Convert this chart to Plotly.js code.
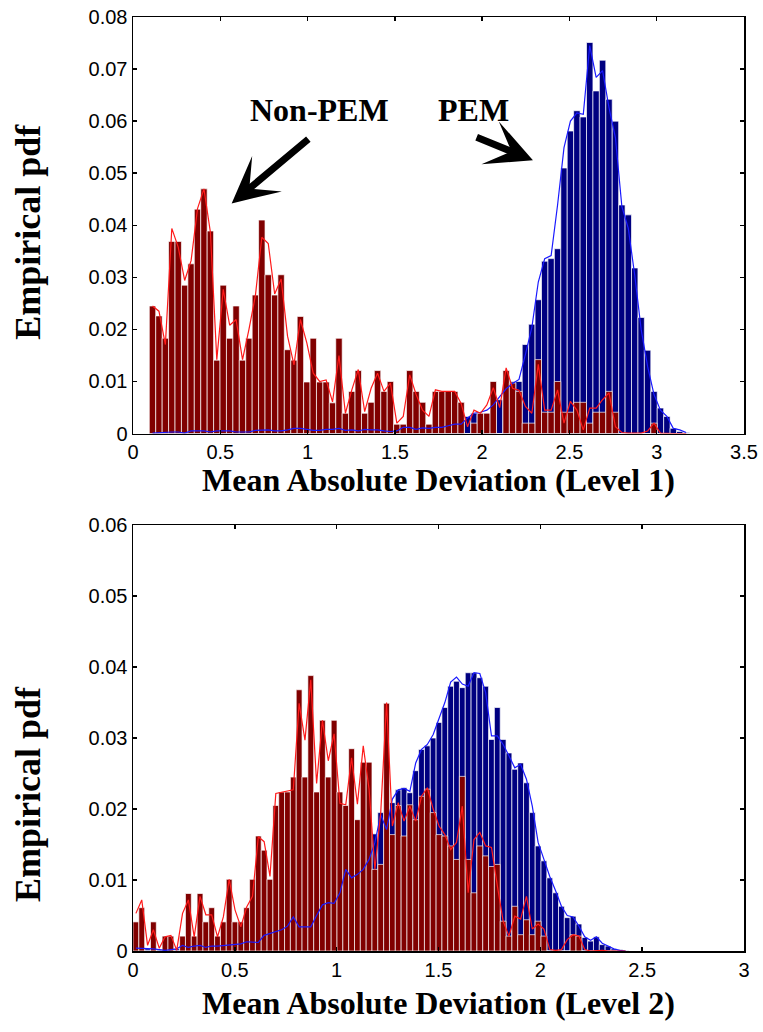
<!DOCTYPE html>
<html><head><meta charset="utf-8">
<script src="https://cdn.plot.ly/plotly-3.0.1.min.js"></script>
<style>html,body{margin:0;padding:0;background:#fff}</style>
</head><body><div id="chart" style="width:763px;height:1032px"></div>
<script>
// ---- Level 1 histogram (84 bins) ----
const binStart1 = 0.1118, binWidth1 = 0.03683;
const pemBars1 = [0.0001,0.0002,0.0003,0.0003,0.0003,0.0001,0.0005,0.0005,0.0005,0.0003,0.0005,0.0005,0.0005,0.0003,0.0003,0.0003,0.0006,0.0006,0.0007,0.0005,0.0005,0.0007,0.0010,0.0010,0.0008,0.0006,0.0006,0.0008,0.0008,0.0010,0.0006,0.0007,0.0005,0.0008,0.0007,0.0007,0.0005,0.0004,0.0005,0.0012,0.0012,0.0008,0.0011,0.0010,0.0012,0.0012,0.0015,0.0018,0.0018,0.0033,0.0039,0.0036,0.0039,0.0045,0.0065,0.0100,0.0100,0.0100,0.0171,0.0210,0.0257,0.0331,0.0336,0.0355,0.0510,0.0581,0.0620,0.0608,0.0751,0.0658,0.0717,0.0642,0.0600,0.0439,0.0420,0.0318,0.0223,0.0160,0.0081,0.0049,0.0033,0.0010,0.0004,0.0002];
const pemLine1 = [0.0001,0.0002,0.0003,0.0003,0.0003,0.0001,0.0005,0.0005,0.0005,0.0003,0.0005,0.0005,0.0005,0.0003,0.0003,0.0003,0.0006,0.0006,0.0007,0.0005,0.0005,0.0007,0.0010,0.0010,0.0008,0.0006,0.0006,0.0008,0.0008,0.0010,0.0006,0.0007,0.0005,0.0008,0.0007,0.0007,0.0005,0.0004,0.0005,0.0012,0.0012,0.0008,0.0011,0.0010,0.0012,0.0012,0.0015,0.0018,0.0018,0.0030,0.0039,0.0041,0.0045,0.0055,0.0071,0.0086,0.0096,0.0104,0.0152,0.0204,0.0291,0.0336,0.0342,0.0439,0.0549,0.0600,0.0616,0.0613,0.0745,0.0684,0.0697,0.0626,0.0568,0.0436,0.0394,0.0304,0.0200,0.0129,0.0075,0.0045,0.0033,0.0010,0.0007,0.0002];
const nonPemBars1 = [0.0245,0.0226,0.0183,0.0369,0.0369,0.0285,0.0326,0.0431,0.0470,0.0389,0.0141,0.0285,0.0183,0.0245,0.0141,0.0183,0.0266,0.0410,0.0305,0.0266,0.0305,0.0161,0.0141,0.0225,0.0099,0.0183,0.0099,0.0099,0.0059,0.0183,0.0039,0.0081,0.0121,0.0039,0.0060,0.0121,0.0081,0.0100,0.0018,0.0018,0.0121,0.0081,0.0060,0.0018,0.0081,0.0081,0.0081,0.0081,0.0060,0,0.0020,0.0039,0.0039,0.0100,0,0.0121,0.0097,0.0081,0.0020,0.0020,0.0142,0.0041,0.0041,0.0100,0.0041,0.0041,0.0060,0.0060,0.0020,0.0041,0.0041,0.0081,0.0041,0,0,0,0,0,0.0020,0,0,0,0,0];
const nonPemLine1 = [0.0245,0.0235,0.0171,0.0394,0.0358,0.0294,0.0332,0.0432,0.0470,0.0387,0.0142,0.0277,0.0208,0.0219,0.0142,0.0200,0.0265,0.0377,0.0365,0.0268,0.0297,0.0187,0.0132,0.0219,0.0174,0.0116,0.0100,0.0103,0.0061,0.0150,0.0039,0.0084,0.0123,0.0042,0.0087,0.0116,0.0081,0.0097,0.0020,0.0033,0.0113,0.0075,0.0045,0.0033,0.0084,0.0081,0.0081,0.0081,0.0058,0.0013,0.0045,0.0039,0.0055,0.0088,0.0050,0.0126,0.0087,0.0083,0.0052,0.0039,0.0133,0.0045,0.0045,0.0084,0.0020,0.0062,0.0045,0.0007,0.0049,0.0049,0.0065,0.0078,0.0013,0.0002,0.0001,0.0001,0.0001,0.0005,0.0020,0.0001,0,0,0,0];

// ---- Level 2 histogram (85 bins) ----
const binStart2 = 0.0143, binWidth2 = 0.02862;
const pemBars2 = [0.0004,0.0004,0.0003,0.0003,0.0002,0.0001,0.0002,0.0003,0.0008,0.0005,0.0007,0.0008,0.0005,0.0007,0.0007,0.0008,0.0009,0.0010,0.0010,0.0013,0.0012,0.0012,0.0022,0.0025,0.0028,0.0030,0.0035,0.0048,0.0034,0.0034,0.0034,0.0050,0.0065,0.0066,0.0067,0.0090,0.0119,0.0108,0.0110,0.0115,0.0135,0.0165,0.0195,0.0167,0.0209,0.0227,0.0230,0.0223,0.0254,0.0284,0.0289,0.0300,0.0322,0.0343,0.0373,0.0380,0.0371,0.0392,0.0392,0.0385,0.0373,0.0298,0.0343,0.0298,0.0279,0.0256,0.0265,0.0237,0.0195,0.0148,0.0127,0.0103,0.0082,0.0063,0.0047,0.0049,0.0038,0.0019,0.0014,0.0020,0.0009,0.0007,0.0003,0.0002,0.0001];
const pemLine2 = [0.0004,0.0004,0.0003,0.0003,0.0002,0.0001,0.0002,0.0003,0.0008,0.0005,0.0007,0.0008,0.0005,0.0007,0.0007,0.0008,0.0009,0.0010,0.0010,0.0013,0.0012,0.0012,0.0022,0.0025,0.0028,0.0030,0.0035,0.0048,0.0034,0.0034,0.0034,0.0050,0.0065,0.0068,0.0067,0.0082,0.0115,0.0103,0.0108,0.0115,0.0129,0.0153,0.0192,0.0171,0.0214,0.0227,0.0229,0.0225,0.0265,0.0284,0.0291,0.0305,0.0329,0.0350,0.0379,0.0386,0.0376,0.0373,0.0392,0.0391,0.0364,0.0303,0.0303,0.0291,0.0275,0.0258,0.0263,0.0242,0.0204,0.0153,0.0129,0.0105,0.0085,0.0063,0.0050,0.0048,0.0035,0.0020,0.0015,0.0020,0.0011,0.0007,0.0003,0.0001,0];
const nonPemBars2 = [0.0041,0.0061,0,0.0041,0,0.0021,0.0021,0,0.0021,0.0081,0.0021,0.0081,0.0041,0.0061,0.0021,0.0041,0.0101,0.0041,0.0041,0.0061,0.0101,0.0162,0.0142,0.0101,0.0205,0.0224,0.0224,0.0245,0.0368,0.0245,0.0388,0.0224,0.0325,0.0245,0.0325,0.0224,0.0205,0.0285,0.0185,0.0266,0.0266,0.0115,0.0122,0.0349,0.0164,0.0205,0.0162,0.0206,0.0185,0.0218,0.0228,0.0195,0.0164,0.0162,0.0148,0.0129,0.0246,0.0129,0.0082,0.0148,0.0134,0.0119,0.0122,0.0042,0.0021,0.0063,0.0023,0.0044,0.0023,0.0042,0.0021,0,0,0,0,0.0023,0.0021,0,0,0,0,0,0,0,0];
const nonPemLine2 = [0.0053,0.0072,0.0008,0.0030,0.0004,0.0020,0.0022,0.0001,0.0053,0.0072,0.0020,0.0077,0.0051,0.0051,0.0020,0.0048,0.0101,0.0058,0.0034,0.0062,0.0077,0.0161,0.0154,0.0105,0.0222,0.0224,0.0225,0.0227,0.0349,0.0297,0.0382,0.0236,0.0325,0.0268,0.0306,0.0208,0.0206,0.0272,0.0207,0.0289,0.0228,0.0115,0.0195,0.0350,0.0176,0.0209,0.0183,0.0204,0.0183,0.0218,0.0230,0.0200,0.0176,0.0164,0.0143,0.0153,0.0204,0.0082,0.0157,0.0167,0.0148,0.0146,0.0092,0.0042,0.0021,0.0049,0.0045,0.0077,0.0031,0.0038,0.0031,0.0002,0.0001,0.0002,0.0016,0.0023,0.0021,0.0002,0,0.0001,0.0001,0,0,0,0];

const yTicks1 = [0,0.01,0.02,0.03,0.04,0.05,0.06,0.07,0.08];
const yTickText1 = ['0','0.01','0.02','0.03','0.04','0.05','0.06','0.07','0.08'];
const yTicks2 = [0,0.01,0.02,0.03,0.04,0.05,0.06];
const yTickText2 = ['0','0.01','0.02','0.03','0.04','0.05','0.06'];
const xTicks1 = [0,0.5,1,1.5,2,2.5,3,3.5];
const xTickText1 = ['0','0.5','1','1.5','2','2.5','3','3.5'];
const xTicks2 = [0,0.5,1,1.5,2,2.5,3];
const xTickText2 = ['0','0.5','1','1.5','2','2.5','3'];

const RED_BAR = '#800000', BLUE_BAR = '#000080', RED_LINE = '#ff1a1a', BLUE_LINE = '#1a1aff';

function bars(y, x0, dx, color, xa, ya) {
  return {type:'bar', y:y, x0:x0, dx:dx, width:dx, xaxis:xa, yaxis:ya,
    marker:{color:color, line:{color:'rgba(255,255,255,0.85)', width:0.8}},
    hoverinfo:'skip', showlegend:false};
}
function line(y, x0, dx, color, xa, ya) {
  return {type:'scatter', mode:'lines', y:y, x0:x0, dx:dx, xaxis:xa, yaxis:ya,
    line:{color:color, width:1.2}, hoverinfo:'skip', showlegend:false};
}

const data = [
  bars(pemBars1, binStart1, binWidth1, BLUE_BAR, 'x', 'y'),
  bars(nonPemBars1, binStart1, binWidth1, RED_BAR, 'x', 'y'),
  line(pemLine1, binStart1, binWidth1, BLUE_LINE, 'x', 'y'),
  line(nonPemLine1, binStart1, binWidth1, RED_LINE, 'x', 'y'),
  bars(pemBars2, binStart2, binWidth2, BLUE_BAR, 'x2', 'y2'),
  bars(nonPemBars2, binStart2, binWidth2, RED_BAR, 'x2', 'y2'),
  line(pemLine2, binStart2, binWidth2, BLUE_LINE, 'x2', 'y2'),
  line(nonPemLine2, binStart2, binWidth2, RED_LINE, 'x2', 'y2')
];

const tickFont = {family:'Liberation Sans, Arial, sans-serif', size:20, color:'#000'};
const axBase = {showline:true, linecolor:'#000', linewidth:1.5, mirror:'ticks', ticks:'inside',
  ticklen:4, tickwidth:1.5, tickcolor:'#000', showgrid:false, zeroline:false, tickfont:tickFont, fixedrange:true};

const titleFont = {family:'Liberation Serif, Times New Roman, serif', size:32, color:'#000', weight:'bold'};
const labelFont = {family:'Liberation Serif, Times New Roman, serif', size:32, color:'#000', weight:'bold'};
const ytitleFont = {family:'Liberation Serif, Times New Roman, serif', size:36, color:'#000', weight:'bold'};

const layout = {
  width:763, height:1032,
  margin:{l:133, r:19, t:17, b:81},
  paper_bgcolor:'#fff', plot_bgcolor:'#fff',
  barmode:'overlay', bargap:0,
  showlegend:false,
  xaxis: Object.assign({}, axBase, {domain:[0,1], range:[0,3.5], anchor:'y', tickvals:xTicks1, ticktext:xTickText1}),
  yaxis: Object.assign({}, axBase, {domain:[0.554,1], range:[0,0.08], anchor:'x', tickvals:yTicks1, ticktext:yTickText1}),
  xaxis2: Object.assign({}, axBase, {domain:[0,1], range:[0,3], anchor:'y2', tickvals:xTicks2, ticktext:xTickText2}),
  yaxis2: Object.assign({}, axBase, {domain:[0,0.456], range:[0,0.06], anchor:'x2', tickvals:yTicks2, ticktext:yTickText2}),
  annotations:[
    {xref:'paper', yref:'paper', x:0.5, y:0.504, text:'Mean Absolute Deviation (Level 1)', showarrow:false, font:titleFont, xanchor:'center', yanchor:'middle'},
    {xref:'paper', yref:'paper', x:0.5, y:-0.056, text:'Mean Absolute Deviation (Level 2)', showarrow:false, font:titleFont, xanchor:'center', yanchor:'middle'},
    {xref:'paper', yref:'paper', x:-0.172, y:0.77, text:'Empirical pdf', textangle:-90, showarrow:false, font:ytitleFont, xanchor:'center', yanchor:'middle'},
    {xref:'paper', yref:'paper', x:-0.172, y:0.168, text:'Empirical pdf', textangle:-90, showarrow:false, font:ytitleFont, xanchor:'center', yanchor:'middle'},
    {xref:'x', yref:'y', x:1.07, y:0.0622, text:'Non-PEM', showarrow:false, font:labelFont, xanchor:'center', yanchor:'middle'},
    {xref:'x', yref:'y', x:1.95, y:0.0622, text:'PEM', showarrow:false, font:labelFont, xanchor:'center', yanchor:'middle'},
    {xref:'x', yref:'y', axref:'x', ayref:'y', x:0.565, y:0.0442, ax:1.013, ay:0.0568, text:'', showarrow:true,
      arrowhead:3, arrowsize:1.1, arrowwidth:7, arrowcolor:'#000', standoff:0, startstandoff:0},
    {xref:'x', yref:'y', axref:'x', ayref:'y', x:2.291, y:0.0525, ax:1.96, ay:0.057, text:'', showarrow:true,
      arrowhead:3, arrowsize:1.1, arrowwidth:7, arrowcolor:'#000', standoff:0, startstandoff:0}
  ]
};

Plotly.newPlot('chart', data, layout, {staticPlot:true, displayModeBar:false});
</script></body></html>
